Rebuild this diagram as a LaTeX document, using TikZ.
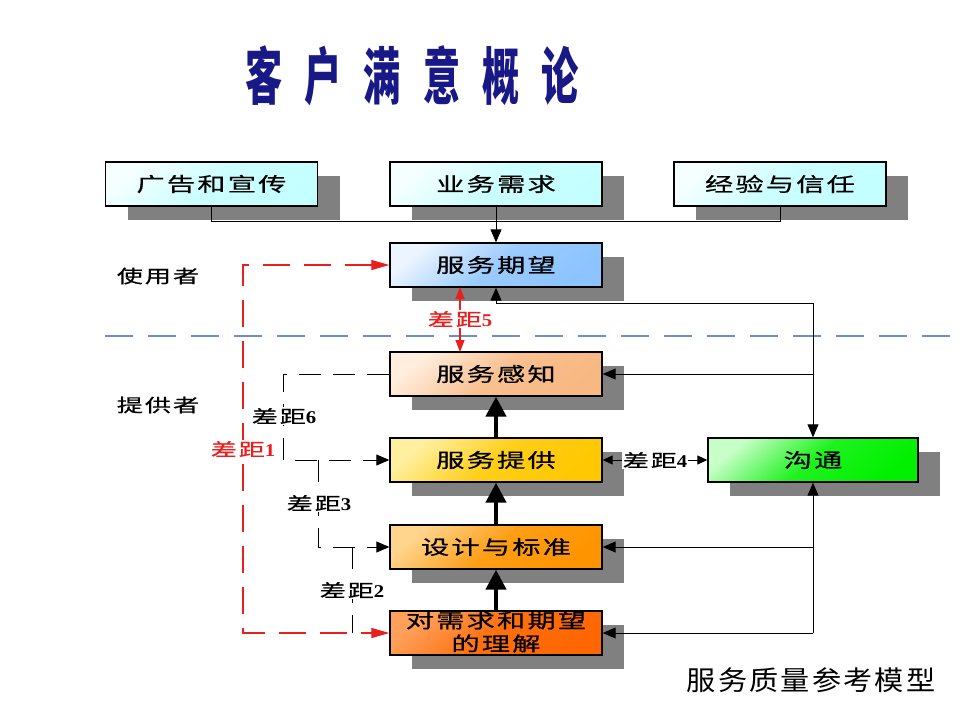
\documentclass[tikz,border=0pt]{standalone}
\usepackage{fontspec}
\usetikzlibrary{arrows.meta,shadows}
\newfontfamily\cjk[FakeStretch=1.45,LetterSpace=11,FakeBold=0.6]{Noto Sans CJK SC}
\newfontfamily\cjkcap[FakeStretch=1.08,LetterSpace=8]{Noto Sans CJK SC}
\newfontfamily\cjktitle[FakeStretch=0.6]{Noto Sans CJK SC}
\newfontfamily\digf[FakeStretch=1.15]{Liberation Serif}
\newcommand{\gapno}[1]{差距{\digf\bfseries #1}}
\definecolor{shadowgray}{RGB}{128,128,128}
\definecolor{titleblue}{RGB}{24,24,135}
\definecolor{bluedash}{RGB}{110,140,210}
\definecolor{redline}{RGB}{235,30,30}
\begin{document}
\begin{tikzpicture}[x=1pt,y=-1pt,
  box/.style={draw=black, line width=1.4pt, minimum width=212pt, minimum height=44pt,
    inner sep=0pt, font=\cjk\fontsize{19.5}{22}\selectfont,
    drop shadow={shadow xshift=22pt, shadow yshift=-14pt, fill=shadowgray, opacity=1}},
  grad/.style 2 args={top color=#1, bottom color=#2, middle color=#2!85!#1, shading angle=40},
  lab/.style={font=\cjk\fontsize{18}{20}\selectfont, fill=white, inner sep=1pt},
  side/.style={font=\cjk\fontsize{18}{20}\selectfont, inner sep=0pt},
  conn/.style={draw=black, line width=1pt},
  arr/.style={conn, -{Triangle[length=13pt,width=11pt]}},
  darr/.style={conn, {Triangle[length=10pt,width=9pt]}-{Triangle[length=10pt,width=9pt]}},
  thk/.style={draw=black, line width=4.5pt, -{Triangle[length=20pt,width=20pt]}},
  bdash/.style={draw=black, line width=1pt, dash pattern=on 22pt off 12pt},
  rdash/.style={draw=redline, line width=1.2pt, dash pattern=on 27pt off 14pt,
    {Triangle[length=18pt,width=10pt]}-{Triangle[length=18pt,width=10pt]}},
  rarr/.style={draw=redline, line width=1.2pt,
    {Triangle[length=12pt,width=9pt]}-{Triangle[length=12pt,width=9pt]}},
]
\useasboundingbox (0,0) rectangle (960,720);
\fill[white] (0,0) rectangle (960,720);

\definecolor{cyA}{RGB}{245,255,255}\definecolor{cyB}{RGB}{196,255,255}
\definecolor{blA}{RGB}{235,244,255}\definecolor{blB}{RGB}{140,196,255}
\definecolor{peA}{RGB}{255,238,222}\definecolor{peB}{RGB}{248,184,130}
\definecolor{yeA}{RGB}{255,240,160}\definecolor{yeB}{RGB}{255,200,0}
\definecolor{orA}{RGB}{255,212,140}\definecolor{orB}{RGB}{255,148,0}
\definecolor{doA}{RGB}{255,160,90}\definecolor{doB}{RGB}{255,102,0}
\definecolor{grA}{RGB}{200,255,200}\definecolor{grB}{RGB}{0,240,0}

% title
\node[inner sep=0pt, text=titleblue] (title) at (412,76)
  {\cjktitle\bfseries\fontsize{62}{64}\selectfont 客\hspace{22pt}户\hspace{22pt}满\hspace{22pt}意\hspace{22pt}概\hspace{22pt}论};

% top boxes
\node[box, grad={cyA}{cyB}] (b1) at (211.5,184) {广告和宣传};
\node[box, grad={cyA}{cyB}] (b2) at (496,184) {业务需求};
\node[box, grad={cyA}{cyB}] (b3) at (780,184) {经验与信任};

% main column
\node[box, grad={blA}{blB}] (ex) at (496,265) {服务期望};
\node[box, grad={peA}{peB}] (perc) at (496,374) {服务感知};
\node[box, grad={yeA}{yeB}] (deliv) at (496,460) {服务提供};
\node[box, grad={orA}{orB}] (design) at (496,547) {设计与标准};
\node[box, grad={doA}{doB}] (under) at (496,633) {};
\node[inner sep=0pt, align=center, font=\cjk\fontsize{19.5}{23}\selectfont] (underT) at (496,632)
  {对需求和期望\\的理解};

% communication
\node[box, minimum width=210pt, grad={grA}{grB}] (comm) at (813,460) {沟通};

% side labels
\node[side] (user) at (158,276) {使用者};
\node[side] (prov) at (158,405) {提供者};

% divider
\coordinate (dl) at (105,336);
\coordinate (dr) at (960,336);
\draw[draw=bluedash, line width=1.2pt, dash pattern=on 28pt off 15pt] (dl) -- (dr);

% top connectors
\coordinate (jr) at (780,221);
\draw[conn] (b1.south) |- (jr) -- (b3.south);
\draw[arr] (b2.south) -- (ex.north);

% right side connectors
\coordinate (r0) at (813,303);
\coordinate (r1) at (comm.north |- perc.east);
\coordinate (r3) at (comm.south |- design.east);
\coordinate (r4) at (comm.south |- under.east);
\draw[arr] (r0) -| (ex.south);
\draw[arr] (r0) -- (comm.north);
\draw[arr] (r1) -- (perc.east);
\draw[arr] (r3) -- (design.east);
\draw[arr] (r4) -- (under.east);
\draw[arr] (r4) -- (comm.south);

% thick arrows
\draw[thk] (under.north) -- (design.south);
\draw[thk] (design.north) -- (deliv.south);
\draw[thk] (deliv.north) -- (perc.south);

% gap 4
\draw[darr] (deliv.east) -- (comm.west);
\node[lab] (l4) at (655,460) {\gapno{4}};

% gap 5
\coordinate (g5a) at (460,287);
\coordinate (g5b) at (460,352);
\draw[rarr] (g5a) -- (g5b);
\node[lab, text=redline] (l5) at (460,319) {\gapno{5}};

% gap 1 (red dashed)
\coordinate (g1) at (243,633);
\draw[rdash] (ex.west) -| (g1) -- (under.west);

% black dashed gaps
\coordinate (g6) at (283,460);
\coordinate (g3) at (318,460);
\coordinate (g2a) at (352,547);
\coordinate (g2b) at (352,633);
\draw[bdash, -{Triangle[length=13pt,width=11pt]}] (perc.west) -| (g6) -- (deliv.west);
\draw[bdash, -{Triangle[length=13pt,width=11pt]}] (g3) |- (design.west);
\draw[bdash] (g2a) -- (g2b);

\node[lab, text=redline] (l1) at (243,449) {\gapno{1}};
\node[lab] (l6) at (284,416) {\gapno{6}};
\node[lab] (l3) at (319,503) {\gapno{3}};
\node[lab] (l2) at (352,590) {\gapno{2}};

% caption
\node[inner sep=0pt, font=\cjkcap\fontsize{27}{30}\selectfont] (cap) at (811,680) {服务质量参考模型};
\end{tikzpicture}
\end{document}
